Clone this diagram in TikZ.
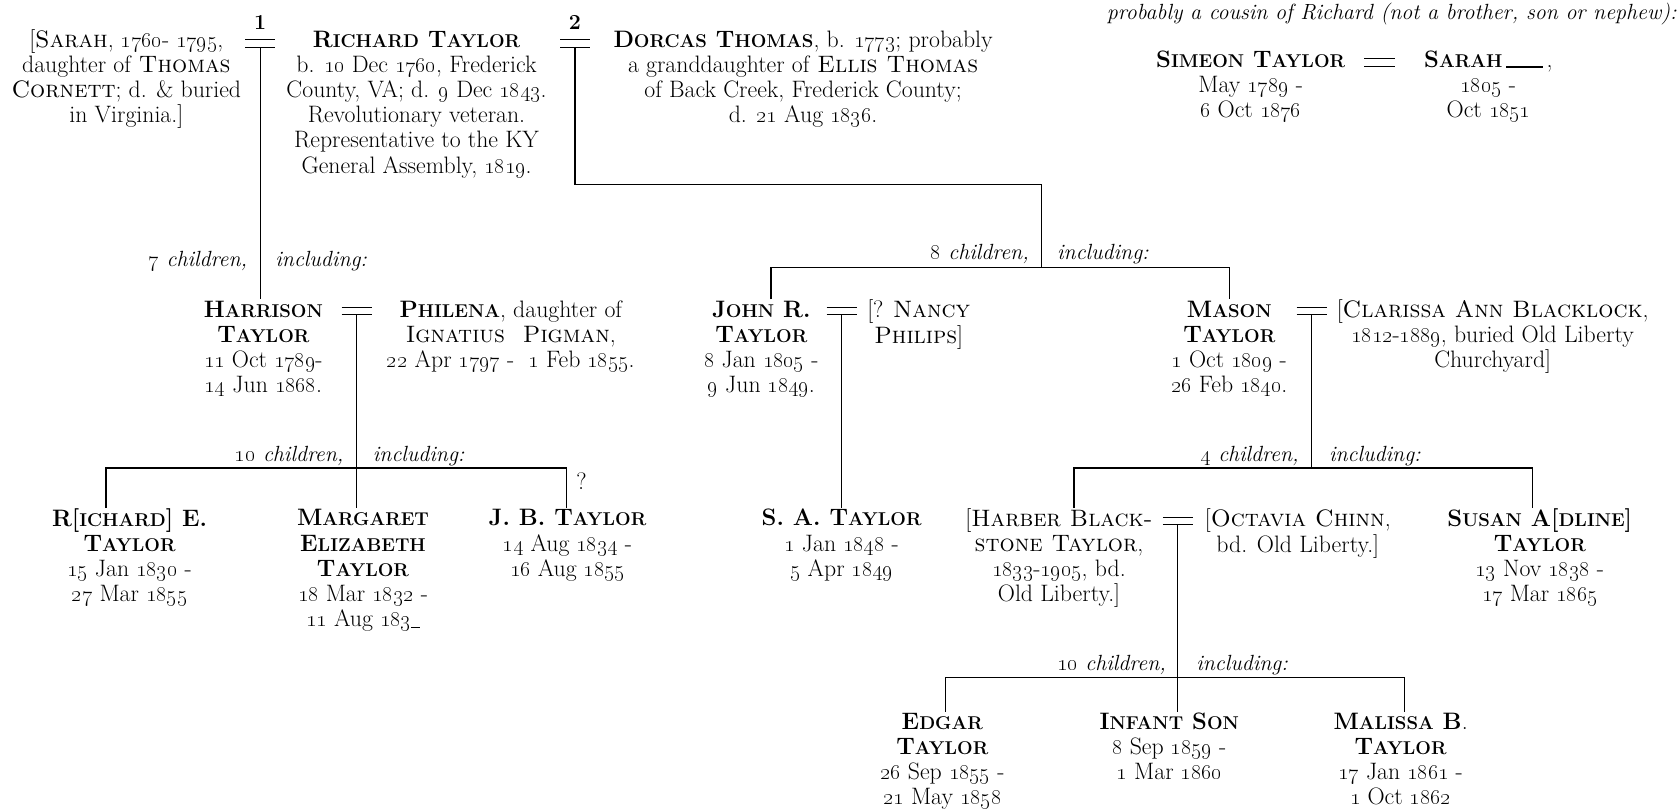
\documentclass[tikz,border=0pt]{standalone}
\usetikzlibrary{calc}
\newcommand\sm[1]{{\fontsize{17.3}{23.5}\selectfont #1}}
\newcommand\on[1]{\oldstylenums{#1}}
\tikzset{
  txt/.style={align=center, inner sep=0pt, anchor=north, yshift=10.5pt, font=\fontsize{22.2}{23.5}\selectfont},
  lab/.style={inner sep=0pt, font=\fontsize{20.5}{23.5}\selectfont\itshape},
  labl/.style={lab, anchor=base east, yshift=-6pt},
  labr/.style={lab, anchor=base west, yshift=-6pt},
  num/.style={inner sep=0pt, font=\fontsize{20}{22}\selectfont\bfseries},
  line/.style={line width=1.1pt},
}
\begin{document}
\begin{tikzpicture}[x=1pt,y=-1pt]
\useasboundingbox (0,0) rectangle (1568,757);
\fill[white] (0,0) rectangle (1568,757);

% ---------- top generation ----------
\node[txt] (sarah) at (118,38) {\strut[\textsc{Sarah}, \on{1760}- \on{1795},\\ daughter of \textsc{Thomas}\\ \textsc{Cornett}; d. \& buried\\ in Virginia.]};
\node[txt] (richard) at (389,38) {\strut\textbf{R\sm{ICHARD} T\sm{AYLOR}}\\ b. \on{10} Dec \on{1760}, Frederick\\ County, VA; d. \on{9} Dec \on{1843}.\\ Revolutionary veteran.\\ Representative to the KY\\ General Assembly, \on{1819}.};
\node[txt] (dorcas) at (750,38) {\strut\textbf{D\sm{ORCAS} T\sm{HOMAS}}, b. \on{1773}; probably\\ a granddaughter of \textsc{Ellis Thomas}\\ of Back Creek, Frederick County;\\ d. \on{21} Aug \on{1836}.};

\node[num] (n1) at (243,21) {1};
\node[num] (n2) at (537,21) {2};
\draw[line] (229,37) -- (257,37) (229,44) -- (257,44);
\draw[line] (523,37) -- (551,37) (523,44) -- (551,44);
\coordinate (m1) at (243,44);
\coordinate (m2) at (537,44);

% ---------- Simeon ----------
\node[lab, anchor=base east, yshift=-6pt] (cousin) at (1566,12) {probably a cousin of Richard (not a brother, son or nephew):};
\node[txt] (simeon) at (1168,57) {\strut\textbf{S\sm{IMEON} T\sm{AYLOR}}\\ May \on{1789} -\\ \on{6} Oct \on{1876}};
\node[txt] (sarahb) at (1390,57) {\strut\textbf{S\sm{ARAH}}\,\rule{34pt}{1.4pt}\,,\\ \on{1805} -\\ Oct \on{1851}};
\draw[line] (1274,55) -- (1303,55) (1274,62) -- (1303,62);

% ---------- second generation ----------
\node[labl] (l7a) at (231,243) {\on{7} children,};
\node[labr] (l7b) at (257,243) {including:};
\node[labl] (l8a) at (961,236) {\on{8} children,};
\node[labr] (l8b) at (987,236) {including:};

\node[txt] (harrison) at (246,290) {\strut\textbf{H\sm{ARRISON}}\\ \textbf{T\sm{AYLOR}}\\ \on{11} Oct \on{1789}-\\ \on{14} Jun \on{1868}.};
\node[txt] (philena) at (477,290) {\strut\textbf{P\sm{HILENA}}, daughter of\\ \textsc{Ignatius\ \ Pigman},\\ \on{22} Apr \on{1797} - \ \on{1} Feb \on{1855}.};
\node[txt] (john) at (711,290) {\strut\textbf{J\sm{OHN} R.}\\ \textbf{T\sm{AYLOR}}\\ \on{8} Jan \on{1805} -\\ \on{9} Jun \on{1849}.};
\node[txt] (nancy) at (858,290) {\strut[? \textsc{Nancy}\\ \textsc{Philips}]};
\node[txt] (mason) at (1148,290) {\strut\textbf{M\sm{ASON}}\\ \textbf{T\sm{AYLOR}}\\ \on{1} Oct \on{1809} -\\ \on{26} Feb \on{1840}.};
\node[txt] (clarissa) at (1394,290) {\strut[\textsc{Clarissa Ann Blacklock},\\ \on{1812}-\on{1889}, buried Old Liberty\\ Churchyard]};

\draw[line] (319,287) -- (347,287) (319,294) -- (347,294);
\draw[line] (772,287) -- (800,287) (772,294) -- (800,294);
\draw[line] (1211,287) -- (1239,287) (1211,294) -- (1239,294);
\coordinate (m4) at (333,294);
\coordinate (m5) at (786,294);
\coordinate (m6) at (1225,294);

% ---------- third generation ----------
\node[labl] (l10a) at (321,425) {\on{10} children,};
\node[labr] (l10b) at (348,425) {including:};
\node[labl] (l4a) at (1213,425) {\on{4} children,};
\node[labr] (l4b) at (1241,425) {including:};

\node[txt] (riche) at (121,485) {\strut\textbf{R[\sm{ICHARD}] E.}\\ \textbf{T\sm{AYLOR}}\\ \on{15} Jan \on{1830} -\\ \on{27} Mar \on{1855}};
\node[txt] (margaret) at (339,485) {\strut\textbf{M\sm{ARGARET}}\\ \textbf{E\sm{LIZABETH}}\\ \textbf{T\sm{AYLOR}}\\ \on{18} Mar \on{1832} -\\ \on{11} Aug \on{183}\rule[-1pt]{8pt}{1pt}};
\node[txt] (jb) at (530,485) {\strut\textbf{J. B. T\sm{AYLOR}}\\ \on{14} Aug \on{1834} -\\ \on{16} Aug \on{1855}};
\node[txt, anchor=center, yshift=-10.5pt] (q) at (543,449) {?};
\node[txt] (sa) at (786,485) {\strut\textbf{S. A. T\sm{AYLOR}}\\ \on{1} Jan \on{1848} -\\ \on{5} Apr \on{1849}};
\node[txt] (harber) at (989,485) {\strut[\textsc{Harber Black-}\\ \textsc{stone Taylor},\\ \on{1833}-\on{1905}, bd.\\ Old Liberty.]};
\node[txt] (octavia) at (1212,485) {\strut[\textsc{Octavia Chinn},\\ bd. Old Liberty.]};
\node[txt] (susan) at (1438,485) {\strut\textbf{S\sm{USAN} A[\sm{DLINE}]}\\ \textbf{T\sm{AYLOR}}\\ \on{13} Nov \on{1838} -\\ \on{17} Mar \on{1865}};

\draw[line] (1086,483) -- (1114,483) (1086,490) -- (1114,490);
\coordinate (m7) at (1100,490);

% ---------- fourth generation ----------
\node[labl] (l10c) at (1089,620) {\on{10} children,};
\node[labr] (l10d) at (1117,620) {including:};
\node[txt] (edgar) at (880,675) {\strut\textbf{E\sm{DGAR}}\\ \textbf{T\sm{AYLOR}}\\ \on{26} Sep \on{1855} -\\ \on{21} May \on{1858}};
\node[txt] (infant) at (1092,675) {\strut\textbf{I\sm{NFANT} S\sm{ON}}\\ \on{8} Sep \on{1859} -\\ \on{1} Mar \on{1860}};
\node[txt] (malissa) at (1308,675) {\strut\textbf{M\sm{ALISSA} B}.\\ \textbf{T\sm{AYLOR}}\\ \on{17} Jan \on{1861} -\\ \on{1} Oct \on{1862}};

% ---------- connectors ----------
\coordinate (k2) at (973,172);
\coordinate (j8) at (973,250);
\coordinate (d8a) at (720,250);
\coordinate (d8b) at (1148,250);
\coordinate (h10a) at (99,437);
\coordinate (h10b) at (529,437);
\coordinate (c4a) at (1003,437);
\coordinate (c4b) at (1431,437);
\coordinate (e10a) at (883,633);
\coordinate (e10b) at (1312,633);

\draw[line] (m1) -- (m1 |- harrison.north);
\draw[line] (m2) |- (k2) -- (j8);
\draw[line] (john.north -| d8a) -- (d8a) -- (d8b) -- (mason.north -| d8b);
\draw[line] (m4) -- (m4 |- margaret.north);
\draw[line] (riche.north -| h10a) -- (h10a) -- (h10b) -- (jb.north -| h10b);
\draw[line] (m5) -- (m5 |- sa.north);
\draw[line] (m6) -- (m6 |- c4a);
\draw[line] (harber.north -| c4a) -- (c4a) -- (c4b) -- (susan.north -| c4b);
\draw[line] (m7) -- (m7 |- infant.north);
\draw[line] (edgar.north -| e10a) -- (e10a) -- (e10b) -- (malissa.north -| e10b);
\end{tikzpicture}
\end{document}
